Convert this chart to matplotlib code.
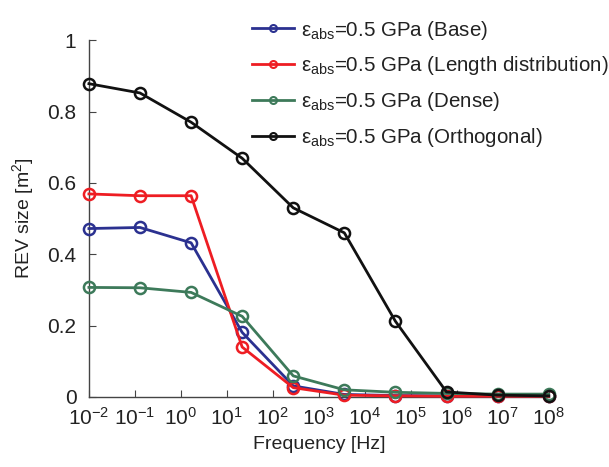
import numpy as np
import matplotlib.pyplot as plt

plt.rcParams['font.family'] = 'Liberation Sans'
plt.rcParams['mathtext.fontset'] = 'custom'
plt.rcParams['mathtext.rm'] = 'Liberation Sans'
plt.rcParams['mathtext.it'] = 'Liberation Sans'

# frequency sweep [Hz]
freq = [1e-2, 1.29e-1, 1.67e0, 2.15e1, 2.78e2, 3.59e3, 4.64e4, 5.99e5, 7.74e6, 1e8]

# REV size [m^2]
rev_base = [0.472, 0.475, 0.432, 0.181, 0.031, 0.007, 0.004, 0.003, 0.003, 0.003]
rev_length = [0.569, 0.564, 0.564, 0.140, 0.026, 0.005, 0.003, 0.002, 0.002, 0.002]
rev_dense = [0.307, 0.306, 0.293, 0.226, 0.059, 0.020, 0.013, 0.010, 0.008, 0.008]
rev_ortho = [0.878, 0.852, 0.770, 0.669, 0.530, 0.460, 0.212, 0.014, 0.005, 0.003]

labels = ['Base', 'Length distribution', 'Dense', 'Orthogonal']
colors = ['#2b3190', '#ee1d23', '#3d7a5a', '#111111']

fig = plt.figure(figsize=(6.09, 4.67), dpi=100)
ax = fig.add_axes([0.146, 0.150, 0.755, 0.764])

for y, lab, c in zip([rev_base, rev_length, rev_dense, rev_ortho], labels, colors):
    ax.plot(freq, y, '-o', color=c, lw=2, ms=8, mfc='none', mew=1.8,
            label='\u03b5$_{\\mathrm{abs}}$=0.5 GPa (' + lab + ')',
            clip_on=False, zorder=3)

ax.set_xscale('log')
ax.set_xlim(1e-2, 1e8)
ax.set_ylim(0, 1)
ax.set_xticks([10.0**k for k in range(-2, 9)])
ax.set_yticks([0, 0.2, 0.4, 0.6, 0.8, 1])
ax.set_yticklabels(['0', '0.2', '0.4', '0.6', '0.8', '1'])

for s in ['top', 'right']:
    ax.spines[s].set_visible(False)
for s in ['left', 'bottom']:
    ax.spines[s].set_color('#444444')
    ax.spines[s].set_linewidth(1.0)
ax.tick_params(which='both', direction='in', colors='#444444', labelcolor='#222222', labelsize=15)
ax.tick_params(which='major', length=5)
ax.tick_params(which='minor', length=3)
ax.tick_params(axis='x', pad=7)
ax.tick_params(axis='y', pad=9)

ax.set_xlabel('Frequency [Hz]', fontsize=14, color='#222222', labelpad=5)
ax.set_ylabel('REV size [m$^2$]', fontsize=14, color='#222222', labelpad=8)

leg = ax.legend(loc='upper left', bbox_to_anchor=(234 / 609, 1.0),
                bbox_transform=fig.transFigure, frameon=False, fontsize=14.8,
                handlelength=2.0, labelspacing=0.62, handletextpad=0.35)
for h in leg.legend_handles:
    h.set_markersize(5)
    h.set_markeredgewidth(1.5)
for t in leg.get_texts():
    t.set_color('#222222')

fig.savefig('out.png', dpi=100)
